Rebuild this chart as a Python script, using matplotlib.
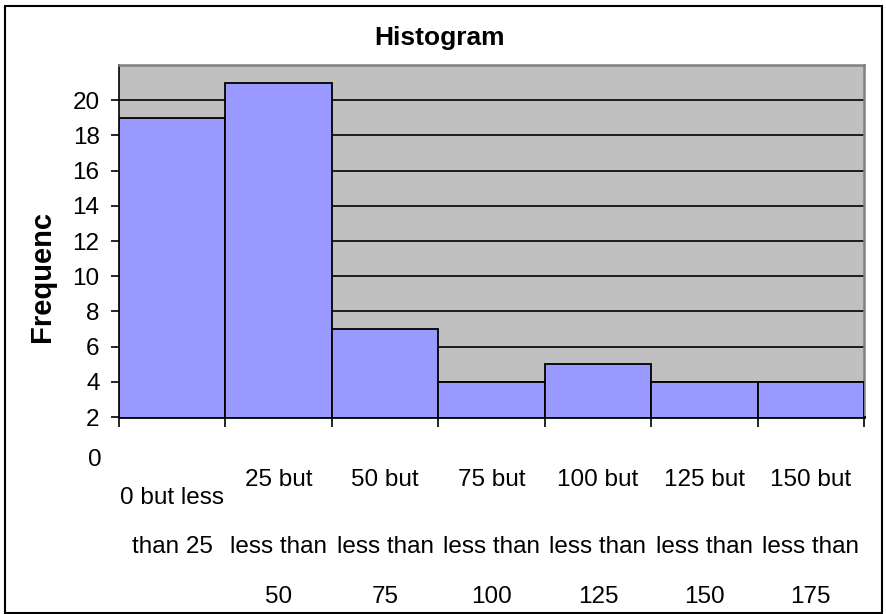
import numpy as np
import matplotlib
matplotlib.use("Agg")
import matplotlib.pyplot as plt
from matplotlib.transforms import blended_transform_factory
from matplotlib.patches import Rectangle

plt.rcParams['font.family'] = ['Liberation Sans', 'DejaVu Sans']

# datos
bins = ["0 but less than 25", "25 but less than 50", "50 but less than 75",
        "75 but less than 100", "100 but less than 125", "125 but less than 150",
        "150 but less than 175"]
label_lines = [["0 but less", "than 25"],
               ["25 but", "less than", "50"],
               ["50 but", "less than", "75"],
               ["75 but", "less than", "100"],
               ["100 but", "less than", "125"],
               ["125 but", "less than", "150"],
               ["150 but", "less than", "175"]]
freq = [19, 21, 7, 4, 5, 4, 4]
yticks = [2, 4, 6, 8, 10, 12, 14, 16, 18, 20]

W, H = 887, 614
fig = plt.figure(figsize=(W / 100, H / 100), dpi=100)
ax = fig.add_axes([119 / W, 1 - 417 / H, (864 - 119) / W, (417 - 65) / H])

x = np.arange(len(freq))
ax.set_facecolor("#C0C0C0")
ax.bar(x, freq, width=1.0, bottom=0, color="#9999FF", edgecolor="black",
       linewidth=1.3, zorder=3)
ax.set_xlim(-0.5, len(freq) - 0.5)
ax.set_ylim(2, 22)

# rejilla
for y in yticks[1:] + [22]:
    ax.axhline(y, color="black", linewidth=1.2, zorder=1)

ax.set_yticks(yticks)
ax.set_yticklabels([str(v) for v in yticks], fontsize=17.5)
ax.tick_params(axis="y", direction="out", length=6, width=1.2, pad=8)
ax.set_xticks(np.arange(len(freq) + 1) - 0.5)
ax.set_xticklabels([])
ax.tick_params(axis="x", direction="out", length=7, width=1.2)

for s in ["top", "right"]:
    ax.spines[s].set_color("#808080")
    ax.spines[s].set_linewidth(1.8)
ax.spines["left"].set_linewidth(1.2)
ax.spines["bottom"].set_linewidth(2)

# el "0" que queda fuera del area
ax.annotate("0", xy=(0, 0), xycoords=blended_transform_factory(ax.transAxes, ax.transData),
            xytext=(-17, -8), textcoords="offset pixels", ha="right", va="center",
            fontsize=17.5, annotation_clip=False)

# etiquetas del eje x
tr = blended_transform_factory(ax.transData, fig.transFigure)
for i, lines in enumerate(label_lines):
    if len(lines) == 2:
        ys = [498, 547]
    else:
        ys = [480, 547, 597]
    for ln, py in zip(lines, ys):
        ax.text(i, 1 - py / H, ln, transform=tr, ha="center", va="center",
                fontsize=17.5, clip_on=False)

fig.text(440 / W, 1 - 38 / H, "Histogram", ha="center", va="center",
         fontsize=19, fontweight="bold")
fig.text(42 / W, 1 - 277 / H, "Frequenc", ha="center", va="center",
         rotation=90, fontsize=21, fontweight="bold")

# marco del grafico
fig.patches.append(Rectangle((5 / W, 1 - 613 / H), (882 - 5) / W, (613 - 6) / H,
                             transform=fig.transFigure, fill=False,
                             edgecolor="black", linewidth=1.5))

fig.savefig("out.png", dpi=100)
